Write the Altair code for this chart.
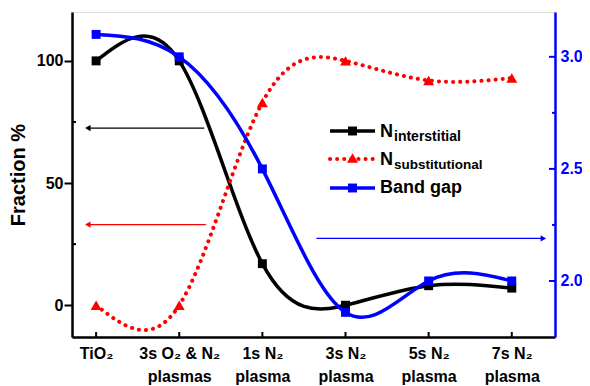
import altair as alt
import pandas as pd

# ---- data ----
x_pos = [0, 1, 2, 3, 4, 5]
x_labels = [["TiO₂"], ["3s O₂ & N₂", "plasmas"], ["1s N₂", "plasma"],
            ["3s N₂", "plasma"], ["5s N₂", "plasma"], ["7s N₂", "plasma"]]
n_inter = [100, 100, 17, 0, 8, 7]
n_subst = [0, 0, 83, 100, 92, 93]
band_gap = [3.1, 3.0, 2.5, 1.86, 2.0, 2.0]

# annotation arrows (data units)
arrow_black = {"x": 1.3, "x2": -0.1, "y": 72.5}
arrow_red = {"x": 1.32, "x2": -0.1, "y": 33}
arrow_blue = {"x": 2.65, "x2": 5.38, "y": 2.19}

W, H = 483, 325
XDOM = [-0.29, 5.52]
LDOM = [-13, 120]
RDOM = [1.75, 3.2]
FONT = "Liberation Sans"
BLUE = "#0000ff"
RED = "#ff0000"

df = pd.DataFrame({"x": x_pos, "inter": n_inter, "subst": n_subst, "bg": band_gap})

def expr_labels():
    parts = []
    for v, lab in zip(x_pos, x_labels):
        arr = "[" + ",".join("'" + s + "'" for s in lab) + "]"
        parts.append(f"datum.value == {v} ? {arr} : ")
    return "".join(parts) + "''"

xenc = alt.X("x:Q", scale=alt.Scale(domain=XDOM, nice=False, zero=False),
             axis=alt.Axis(values=x_pos, labelExpr=expr_labels(), title=None, grid=False,
                           ticks=False, labelFont=FONT, labelFontSize=16, labelFontWeight="bold",
                           labelColor="black", labelPadding=8, labelLineHeight=23,
                           labelBaseline="top", domainColor="black", domainWidth=2.5,
                           labelFlush=False))

left_axis = alt.Axis(values=[0, 50, 100], title="Fraction %", grid=False, tickSize=8,
                     tickWidth=2, tickColor="black", labelPadding=1, labelFont=FONT,
                     labelFontSize=16, labelFontWeight="bold", labelColor="black",
                     titleFont=FONT, titleFontSize=20, titleFontWeight="bold",
                     titleColor="black", titlePadding=8, domainColor="black", domainWidth=2.5)
right_axis = alt.Axis(values=[2.0, 2.5, 3.0], format=".1f", title=None, grid=False,
                      ticks=False, orient="right", labelPadding=5, labelFont=FONT,
                      labelFontSize=16, labelFontWeight="bold", labelColor=BLUE,
                      domainColor=BLUE, domainWidth=2.5)

def ly(field):
    return alt.Y(f"{field}:Q", scale=alt.Scale(domain=LDOM, nice=False, zero=False), axis=left_axis)

def ry(field):
    return alt.Y(f"{field}:Q", scale=alt.Scale(domain=RDOM, nice=False, zero=False), axis=right_axis)

base = alt.Chart(df)

black_line = base.mark_line(interpolate="natural", color="black", strokeWidth=3.5).encode(x=xenc, y=ly("inter"))
black_pts = base.mark_point(shape="square", filled=True, size=80, color="black", opacity=1).encode(x=xenc, y=ly("inter"))
red_line = base.mark_line(interpolate="natural", color=RED, strokeWidth=4, strokeDash=[0.1, 7], strokeCap="round").encode(x=xenc, y=ly("subst"))
red_pts = base.mark_point(shape="triangle-up", filled=True, size=120, color=RED, opacity=1).encode(x=xenc, y=ly("subst"))

arr_df = pd.DataFrame([dict(arrow_black, c="black"), dict(arrow_red, c=RED)])
arr_rules = alt.Chart(arr_df).mark_rule(strokeWidth=1.2).encode(
    x="x:Q", x2="x2:Q", y=ly("y"), color=alt.Color("c:N", scale=None))
arr_heads = alt.Chart(arr_df).mark_point(shape="triangle-left", filled=True, size=40, opacity=1).encode(
    x="x2:Q", y=ly("y"), color=alt.Color("c:N", scale=None))

# x ticks (inward), left minor ticks (inward)
tick_df = pd.DataFrame({"x": x_pos})
xticks = alt.Chart(tick_df).mark_rule(color="black", strokeWidth=2).encode(
    x="x:Q", y=alt.value(H), y2=alt.value(H - 5))
lminor = alt.Chart(pd.DataFrame({"v": [25, 75]})).mark_rule(color="black", strokeWidth=2).encode(
    x=alt.value(0), x2=alt.value(4), y=ly("v"))

# legend
one = pd.DataFrame({"a": [0]})
LX = 258
def lg_line(y, color, dash=None):
    kw = dict(color=color, strokeWidth=3.5 if dash is None else 4)
    if dash is not None:
        kw.update(strokeDash=dash, strokeCap="round")
    return alt.Chart(one).mark_rule(**kw).encode(x=alt.value(LX), x2=alt.value(LX + 45), y=alt.value(y))
def lg_pt(y, color, shape, size):
    return alt.Chart(one).mark_point(shape=shape, filled=True, size=size, color=color, opacity=1).encode(
        x=alt.value(LX + 22.5), y=alt.value(y))
def lg_text(x, y, txt, size):
    return alt.Chart(one).mark_text(text=txt, align="left", baseline="alphabetic", font=FONT,
                                    fontSize=size, fontWeight="bold", color="black").encode(
        x=alt.value(x), y=alt.value(y))

legend = alt.layer(
    lg_line(119, "black"), lg_pt(119, "black", "square", 80),
    lg_text(LX + 50, 125, "N", 18), lg_text(LX + 64, 129, "interstitial", 14),
    lg_line(147, RED, [0.1, 7]), lg_pt(146, RED, "triangle-up", 120),
    lg_text(LX + 50, 153, "N", 18), lg_text(LX + 64, 157, "substitutional", 13.5),
    lg_line(176, BLUE), lg_pt(176, BLUE, "square", 80),
    lg_text(LX + 50, 181, "Band gap", 18),
)

left = alt.layer(black_line, red_line, black_pts, red_pts, arr_rules, arr_heads, xticks, lminor, legend)

blue_line = base.mark_line(interpolate="natural", color=BLUE, strokeWidth=3.5).encode(x=xenc, y=ry("bg"))
blue_pts = base.mark_point(shape="square", filled=True, size=80, color=BLUE, opacity=1).encode(x=xenc, y=ry("bg"))
barr_df = pd.DataFrame([arrow_blue])
barr_rule = alt.Chart(barr_df).mark_rule(strokeWidth=1.2, color=BLUE).encode(x="x:Q", x2="x2:Q", y=ry("y"))
barr_head = alt.Chart(barr_df).mark_point(shape="triangle-right", filled=True, size=40, color=BLUE, opacity=1).encode(
    x="x2:Q", y=ry("y"))
rticks = alt.Chart(pd.DataFrame({"v": [2.0, 2.5, 3.0]})).mark_rule(color=BLUE, strokeWidth=2).encode(
    x=alt.value(W), x2=alt.value(W - 6), y=ry("v"))
rminor = alt.Chart(pd.DataFrame({"v": [2.25, 2.75]})).mark_rule(color=BLUE, strokeWidth=2).encode(
    x=alt.value(W), x2=alt.value(W - 3), y=ry("v"))

right = alt.layer(blue_line, blue_pts, barr_rule, barr_head, rticks, rminor)

chart = alt.layer(left, right).resolve_scale(y="independent").properties(
    width=W, height=H,
    autosize=alt.AutoSizeParams(type="none"),
    padding={"left": 64, "top": 4, "right": 27, "bottom": 49},
).configure_view(stroke="black", strokeWidth=2.5).configure(background="white")

chart.save("out.html", embed_options={"renderer": "svg", "actions": False})
